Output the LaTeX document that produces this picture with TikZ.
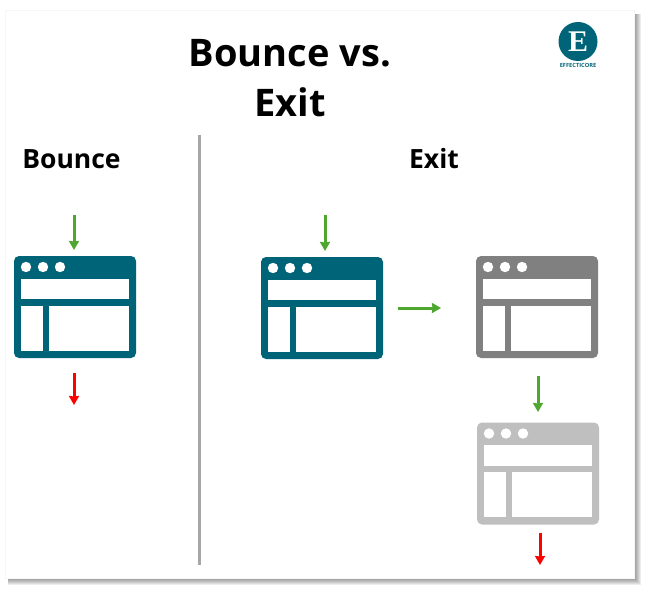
\documentclass[tikz,border=0pt]{standalone}
\usepackage{fontspec}
\setmainfont{Open Sans}
\newfontfamily\logofont{Liberation Serif}
\usetikzlibrary{arrows.meta}
\definecolor{coreteal}{HTML}{006478}
\definecolor{arrowgreen}{HTML}{4EA72E}
\newcommand{\webwindow}[3]{%
    \node [windowbox,fill=#3] (#1) at (#2) {};
    \begin{scope}[shift={(#1.north west)}]
        \fill [white] (6.7,22.5) rectangle (115.3,43.2);
        \fill [white] (6.7,49.5) rectangle (28.5,94.8);
        \fill [white] (35,49.5) rectangle (115.3,94.8);
        \foreach \x in {12,29,46}
            \fill [white] (\x,11) circle (5.2);
    \end{scope}
}
\tikzset{
    windowbox/.style={rectangle,rounded corners=5pt,minimum width=122pt,minimum height=102pt,inner sep=0pt,outer sep=0pt},
    headtext/.style={font=\bfseries\fontsize{26.5}{26.5}\selectfont,inner sep=0pt}
}
\begin{document}
\begin{tikzpicture}[x=1pt,y=-1pt]
\useasboundingbox (0,0) rectangle (652,591);
% sheet with shadow
\foreach \s in {7,6,...,1}
    \fill [black,opacity=0.07] (8,14) rectangle (634+\s,578+\s);
\fill [white,draw=black!3] (5,10) rectangle (634,578);
% headings
\begin{scope}[every node/.style={font=\bfseries\fontsize{38}{38}\selectfont,inner sep=0pt,anchor=base}]
    \node (title) at (290,67) {Bounce vs.};
    \node (titleexit) at (290,116) {Exit};
\end{scope}
\begin{scope}[every node/.style={headtext,anchor=base}]
    \node (bouncehead) at (71.5,168.5) {Bounce};
    \node (exithead) at (434,168.5) {Exit};
\end{scope}
\coordinate (sepTop) at (199,135);
\coordinate (sepBottom) at (199,565);
\draw [line width=3pt,color=black!35] (sepTop) -- (sepBottom);
% logo
\node [circle,fill=coreteal,minimum size=39pt,inner sep=0pt,text=white,font=\logofont\bfseries\fontsize{30}{30}\selectfont] (logo) at (578,41.5) {E};
\node [text=coreteal,font=\bfseries\fontsize{5.7}{5.7}\selectfont,inner sep=0pt] (logotext) at (578,65) {EFFECTICORE};
% windows
\webwindow{bounce}{75,307}{coreteal}
\webwindow{exitone}{322,308}{coreteal}
\webwindow{exittwo}{537,307}{black!50}
\webwindow{exitthree}{538,473.5}{black!25}
\coordinate (bounceIn) at (74,215);
\coordinate (bounceOut) at (74,405);
\coordinate (exitIn) at (325,215);
\coordinate (exitMid) at (538,412);
\coordinate (exitOut) at (540,565);
\begin{scope}[>={Stealth[length=9pt,width=10pt,inset=0.5pt]},
              every edge/.style={draw=arrowgreen,line width=3pt}]
    \path [->] (bounceIn) edge [shorten >=6pt] (bounceIn |- bounce.north);
    \path [->] (exitIn) edge [shorten >=6pt] (exitIn |- exitone.north);
    \path [->] (exitone.east) edge [shorten <=15pt,shorten >=35pt] (exitone.east -| exittwo.west);
    \path [->] (exittwo.south -| exitMid) edge [shorten <=18pt] (exitMid);
\end{scope}
\begin{scope}[>={Stealth[length=9pt,width=10pt,inset=0.5pt]},
              every edge/.style={draw=red,line width=3pt}]
    \path [->] (bounce.south -| bounceOut) edge [shorten <=15pt] (bounceOut);
    \path [->] (exitthree.south -| exitOut) edge [shorten <=8pt] (exitOut);
\end{scope}
\end{tikzpicture}
\end{document}
